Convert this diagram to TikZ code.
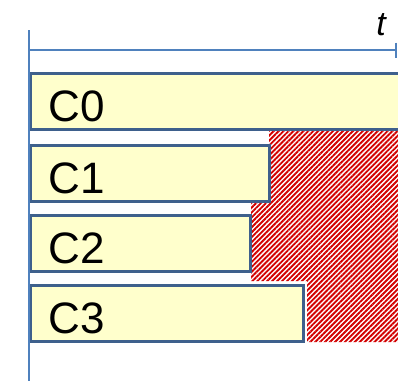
\documentclass[tikz,border=0pt]{standalone}
\usepackage{fontspec}
\setmainfont{Liberation Sans}
\usetikzlibrary{patterns.meta,arrows.meta}
\definecolor{axisblue}{RGB}{79,129,189}
\definecolor{boxblue}{RGB}{62,96,140}
\definecolor{boxfill}{RGB}{255,255,204}
\definecolor{hatchred}{RGB}{210,0,0}
\tikzset{
  chanbox/.style={draw=boxblue, line width=3pt, fill=boxfill, anchor=north west,
    minimum height=56pt, inner xsep=18pt, inner ysep=0pt, align=left,
    text height=40pt, text depth=0pt, font=\fontsize{44}{44}\selectfont},
  axisline/.style={draw=axisblue, line width=2.5pt},
}
\begin{document}
\begin{tikzpicture}[x=1pt,y=-1pt]
\useasboundingbox (0,0) rectangle (398,380);
\clip (0,0) rectangle (398,380);
% hatched region
\path[pattern={Lines[angle=45,distance=3.5pt,line width=1.9pt]}, pattern color=hatchred]
  (269,131) -- (400,131) -- (400,342) -- (307,342) -- (307,281) -- (251,281) -- (251,202) -- (269,202) -- cycle;
% boxes
\node[chanbox, text width=400pt-36pt] (c0) at (29,72) {C0};
\node[chanbox, text width=239pt-36pt] (c1) at (29,144) {C1};
\node[chanbox, text width=220pt-36pt] (c2) at (29,214) {C2};
\node[chanbox, text width=273pt-36pt] (c3) at (29,284) {C3};
% axes
\coordinate (o) at (29,30);
\coordinate (ob) at (29,382);
\coordinate (ts) at (29,50);
\coordinate (te) at (397,50);
\draw[axisline] (o) -- (ob);
\draw[axisline, -{Bar[width=15pt,line width=2.5pt]}] (ts) -- (te);
\node[font=\fontsize{34}{34}\selectfont\itshape, anchor=base] (t) at (381,35) {t};
\end{tikzpicture}
\end{document}
